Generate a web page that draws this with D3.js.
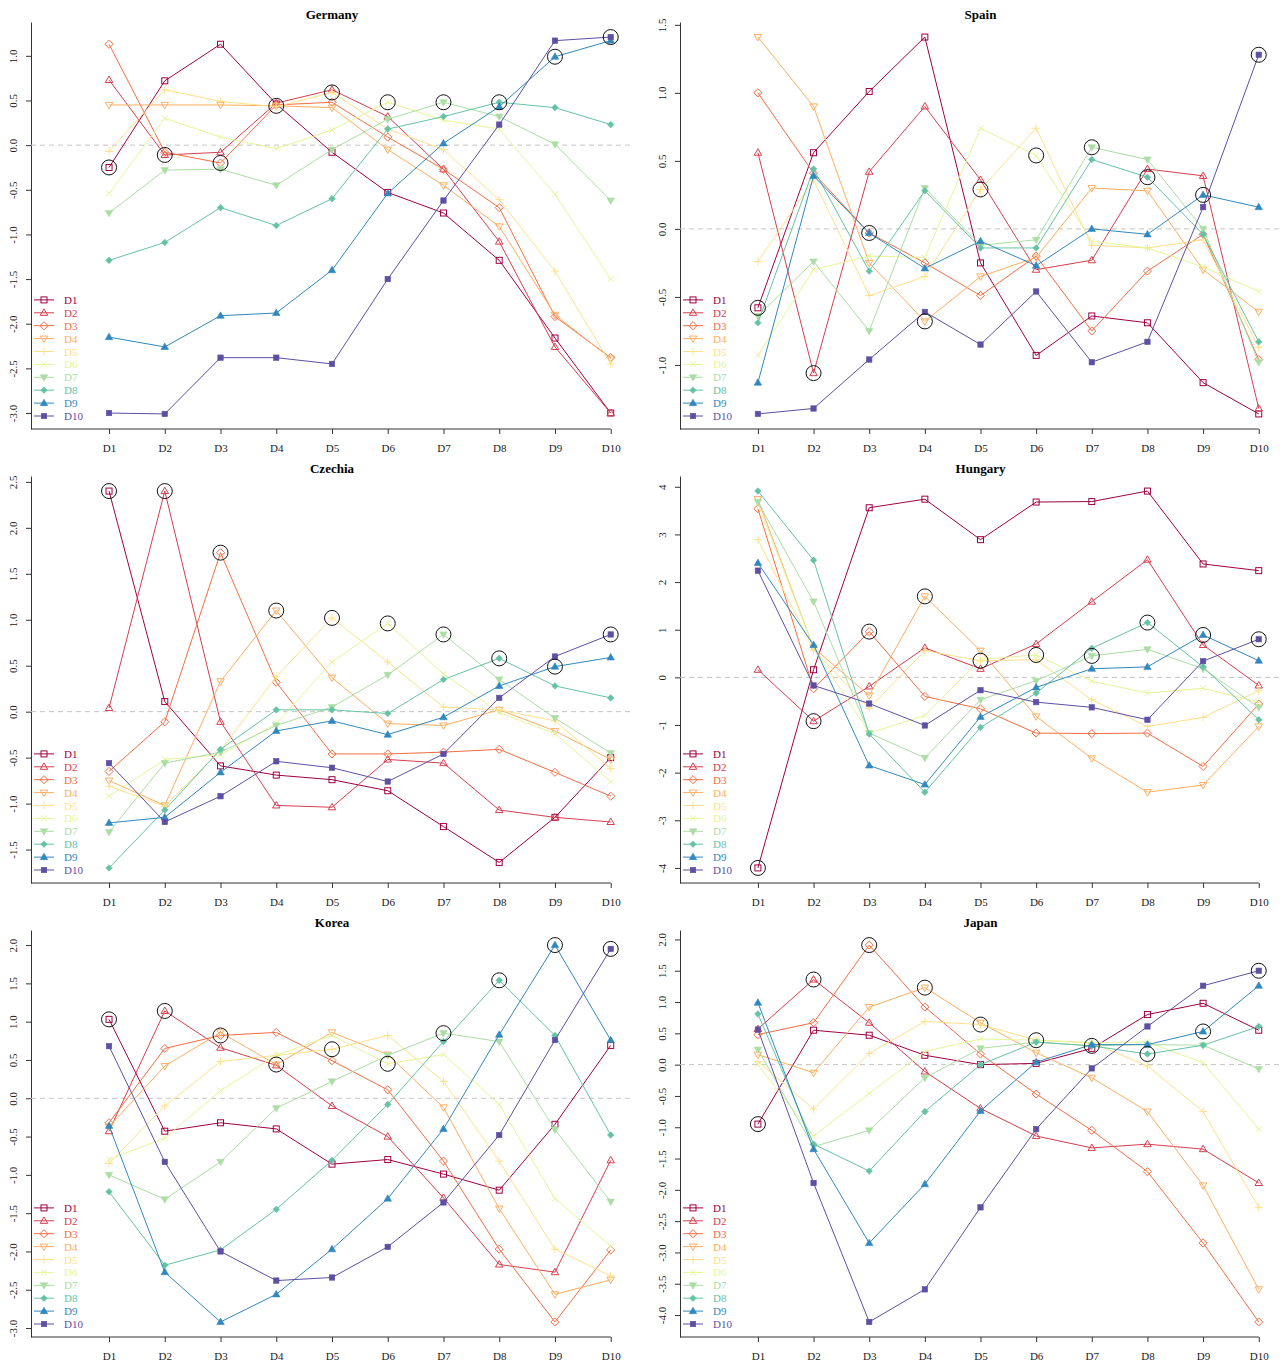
<!DOCTYPE html>
<html lang="en">
<head>
<meta charset="UTF-8">
<title>Decile profiles by country</title>
<script src="https://d3js.org/d3.v7.min.js"></script>
<style>
  body { margin: 0; background: #fff; }
  svg { display: block; font-family: "Liberation Serif", "DejaVu Serif", serif; }
</style>
</head>
<body>
<svg id="chart" width="1282" height="1365"></svg>
<script>
const deciles = ["D1", "D2", "D3", "D4", "D5", "D6", "D7", "D8", "D9", "D10"];
const colors = ["#9E0142", "#D53E4F", "#F46D43", "#FDAE61", "#FEE08B",
                "#E6F598", "#ABDDA4", "#66C2A5", "#3288BD", "#5E4FA2"];

// one row per series D1..D10, one value per category D1..D10
const germany = [
  [-0.25, 0.72, 1.13, 0.46, -0.08, -0.53, -0.76, -1.29, -2.16, -3.00],
  [0.73, -0.11, -0.08, 0.47, 0.62, 0.32, -0.27, -1.08, -2.26, -3.00],
  [1.13, -0.08, -0.20, 0.45, 0.48, 0.09, -0.27, -0.70, -1.92, -2.38],
  [0.45, 0.45, 0.45, 0.44, 0.42, -0.05, -0.45, -0.91, -1.90, -2.39],
  [-0.07, 0.62, 0.49, 0.43, 0.59, 0.18, -0.05, -0.61, -1.41, -2.45],
  [-0.54, 0.30, 0.09, -0.04, 0.17, 0.48, 0.28, 0.18, -0.55, -1.50],
  [-0.76, -0.28, -0.27, -0.45, -0.05, 0.29, 0.48, 0.32, 0.01, -0.62],
  [-1.29, -1.09, -0.70, -0.90, -0.60, 0.18, 0.32, 0.48, 0.42, 0.23],
  [-2.15, -2.26, -1.91, -1.88, -1.40, -0.54, 0.02, 0.43, 0.99, 1.17],
  [-3.00, -3.01, -2.38, -2.38, -2.45, -1.50, -0.62, 0.23, 1.17, 1.21]
];
const spain = [
  [-0.58, 0.56, 1.01, 1.41, -0.25, -0.93, -0.64, -0.69, -1.13, -1.36],
  [0.56, -1.06, 0.42, 0.90, 0.36, -0.30, -0.23, 0.44, 0.39, -1.32],
  [1.00, 0.41, -0.03, -0.25, -0.49, -0.20, -0.75, -0.31, -0.04, -0.96],
  [1.41, 0.90, -0.25, -0.68, -0.35, -0.21, 0.30, 0.28, -0.30, -0.61],
  [-0.24, 0.36, -0.49, -0.35, 0.29, 0.74, -0.12, -0.14, -0.08, -0.87],
  [-0.93, -0.30, -0.20, -0.21, 0.74, 0.54, -0.09, -0.14, -0.28, -0.46],
  [-0.64, -0.24, -0.75, 0.30, -0.12, -0.08, 0.60, 0.51, 0.00, -0.98],
  [-0.69, 0.44, -0.31, 0.28, -0.14, -0.14, 0.51, 0.38, -0.04, -0.83],
  [-1.13, 0.39, -0.03, -0.29, -0.09, -0.27, 0.00, -0.04, 0.25, 0.16],
  [-1.36, -1.32, -0.96, -0.61, -0.85, -0.46, -0.98, -0.83, 0.16, 1.28]
];
const czechia = [
  [2.40, 0.11, -0.59, -0.69, -0.74, -0.86, -1.25, -1.64, -1.15, -0.50],
  [0.04, 2.40, -0.11, -1.02, -1.04, -0.52, -0.56, -1.07, -1.15, -1.20],
  [-0.65, -0.11, 1.73, 0.32, -0.46, -0.46, -0.44, -0.41, -0.66, -0.92],
  [-0.75, -1.02, 0.33, 1.10, 0.37, -0.13, -0.15, 0.02, -0.21, -0.52],
  [-0.81, -1.03, -0.42, 0.38, 1.02, 0.54, 0.05, 0.02, -0.10, -0.62],
  [-0.92, -0.52, -0.47, -0.13, 0.54, 0.96, 0.41, -0.01, -0.24, -0.76],
  [-1.31, -0.56, -0.44, -0.15, 0.05, 0.40, 0.84, 0.35, -0.07, -0.45],
  [-1.70, -1.07, -0.41, 0.02, 0.02, -0.02, 0.35, 0.58, 0.28, 0.15],
  [-1.21, -1.15, -0.66, -0.21, -0.10, -0.25, -0.06, 0.28, 0.49, 0.59],
  [-0.56, -1.20, -0.92, -0.54, -0.61, -0.76, -0.46, 0.15, 0.60, 0.84]
];
const hungary = [
  [-4.00, 0.16, 3.56, 3.74, 2.89, 3.68, 3.69, 3.91, 2.38, 2.24],
  [0.16, -0.92, -0.19, 0.62, 0.18, 0.70, 1.59, 2.47, 0.68, -0.17],
  [3.54, -0.24, 0.96, -0.40, -0.66, -1.17, -1.18, -1.17, -1.87, -0.56],
  [3.74, 0.62, -0.38, 1.70, 0.56, -0.82, -1.70, -2.41, -2.26, -1.03],
  [2.89, 0.58, -0.65, 0.56, 0.35, 0.37, -0.47, -1.03, -0.84, -0.28],
  [3.65, 0.62, -1.17, -0.80, 0.38, 0.47, -0.08, -0.33, -0.23, -0.52],
  [3.68, 1.59, -1.17, -1.69, -0.47, -0.07, 0.45, 0.59, 0.18, -0.63],
  [3.91, 2.46, -1.19, -2.41, -1.05, -0.33, 0.61, 1.15, 0.22, -0.89],
  [2.40, 0.68, -1.85, -2.25, -0.83, -0.21, 0.18, 0.22, 0.89, 0.35],
  [2.24, -0.17, -0.55, -1.01, -0.27, -0.52, -0.63, -0.89, 0.34, 0.80]
];
const korea = [
  [1.03, -0.43, -0.32, -0.40, -0.86, -0.80, -0.99, -1.20, -0.34, 0.69],
  [-0.43, 1.14, 0.66, 0.43, -0.10, -0.50, -1.30, -2.17, -2.27, -0.81],
  [-0.32, 0.65, 0.82, 0.86, 0.49, 0.11, -0.82, -1.97, -2.92, -1.98],
  [-0.37, 0.42, 0.86, 0.44, 0.86, 0.57, -0.12, -1.44, -2.56, -2.37],
  [-0.85, -0.10, 0.48, 0.56, 0.64, 0.82, 0.22, -0.82, -1.97, -2.32],
  [-0.80, -0.52, 0.10, 0.56, 0.82, 0.45, 0.57, -0.08, -1.31, -1.93],
  [-1.00, -1.32, -0.83, -0.13, 0.22, 0.56, 0.85, 0.74, -0.41, -1.35],
  [-1.22, -2.18, -1.98, -1.45, -0.81, -0.08, 0.74, 1.54, 0.82, -0.48],
  [-0.36, -2.27, -2.92, -2.56, -1.97, -1.31, -0.40, 0.83, 2.00, 0.76],
  [0.68, -0.83, -2.00, -2.38, -2.34, -1.94, -1.36, -0.48, 0.76, 1.95]
];
const japan = [
  [-0.95, 0.55, 0.47, 0.15, 0.00, 0.02, 0.26, 0.80, 0.98, 0.55],
  [0.57, 1.36, 0.67, -0.11, -0.70, -1.14, -1.33, -1.27, -1.35, -1.89],
  [0.48, 0.67, 1.91, 0.92, 0.17, -0.47, -1.05, -1.71, -2.85, -4.11],
  [0.16, -0.13, 0.92, 1.23, 0.67, 0.19, -0.21, -0.75, -1.93, -3.59],
  [0.05, -0.71, 0.18, 0.69, 0.64, 0.39, 0.35, -0.02, -0.75, -2.28],
  [0.00, -1.14, -0.46, 0.21, 0.41, 0.39, 0.35, 0.36, 0.03, -1.03],
  [0.24, -1.31, -1.05, -0.21, 0.26, 0.36, 0.30, 0.32, 0.31, -0.07],
  [0.81, -1.27, -1.70, -0.75, 0.00, 0.36, 0.30, 0.17, 0.31, 0.61],
  [0.99, -1.35, -2.85, -1.91, -0.74, 0.04, 0.32, 0.32, 0.53, 1.26],
  [0.56, -1.89, -4.11, -3.59, -2.28, -1.03, -0.06, 0.61, 1.26, 1.50]
];

const germanyTicks = [-3, -2.5, -2, -1.5, -1, -0.5, 0, 0.5, 1];
const spainTicks = [-1, -0.5, 0, 0.5, 1, 1.5];
const czechiaTicks = [-1.5, -1, -0.5, 0, 0.5, 1, 1.5, 2, 2.5];
const hungaryTicks = [-4, -3, -2, -1, 0, 1, 2, 3, 4];
const koreaTicks = [-3, -2.5, -2, -1.5, -1, -0.5, 0, 0.5, 1, 1.5, 2];
const japanTicks = [-4, -3.5, -3, -2.5, -2, -1.5, -1, -0.5, 0, 0.5, 1, 1.5, 2];

const panels = [
  { name: "Germany", data: germany, ticks: germanyTicks },
  { name: "Spain", data: spain, ticks: spainTicks },
  { name: "Czechia", data: czechia, ticks: czechiaTicks },
  { name: "Hungary", data: hungary, ticks: hungaryTicks },
  { name: "Korea", data: korea, ticks: koreaTicks },
  { name: "Japan", data: japan, ticks: japanTicks }
];

const svg = d3.select("#chart");
const cols = [{ left: 31, right: 633 }, { left: 680, right: 1281 }];
const rowStep = 454;
const axisColor = "#333";

// R-like plotting symbols: 0, 2, 5, 6, 3, 4, 25(filled), 18, 17, 15
function drawMarker(g, k, cx, cy, col) {
  const s = 3;
  const m = g.append("g").attr("transform", `translate(${cx},${cy})`);
  const open = { fill: "none", stroke: col, "stroke-width": 1 };
  const solid = { fill: col, stroke: col, "stroke-width": 0.6 };
  const apply = (sel, st) => { Object.entries(st).forEach(([a, v]) => sel.attr(a, v)); return sel; };
  const tri = (up, r) => up
    ? `M0,${-r * 1.15}L${r * 1.1},${r * 0.75}L${-r * 1.1},${r * 0.75}Z`
    : `M0,${r * 1.15}L${r * 1.1},${-r * 0.75}L${-r * 1.1},${-r * 0.75}Z`;
  const dia = r => `M0,${-r}L${r},0L0,${r}L${-r},0Z`;
  switch (k) {
    case 0: apply(m.append("rect").attr("x", -s).attr("y", -s).attr("width", 2 * s).attr("height", 2 * s), open); break;
    case 1: apply(m.append("path").attr("d", tri(true, s + 0.4)), open); break;
    case 2: apply(m.append("path").attr("d", dia(s * 1.35)), open); break;
    case 3: apply(m.append("path").attr("d", tri(false, s + 0.4)), open); break;
    case 4: apply(m.append("path").attr("d", `M${-s * 1.35},0H${s * 1.35}M0,${-s * 1.35}V${s * 1.35}`), open); break;
    case 5: apply(m.append("path").attr("d", `M${-s},${-s}L${s},${s}M${-s},${s}L${s},${-s}`), open); break;
    case 6: apply(m.append("path").attr("d", tri(false, s + 0.4)), solid); break;
    case 7: apply(m.append("path").attr("d", dia(s * 1.1)), solid); break;
    case 8: apply(m.append("path").attr("d", tri(true, s + 0.4)), solid); break;
    case 9: apply(m.append("rect").attr("x", -s + 0.3).attr("y", -s + 0.3).attr("width", 2 * s - 0.6).attr("height", 2 * s - 0.6), solid); break;
  }
}

panels.forEach((p, idx) => {
  const c = cols[idx % 2];
  const top = 22 + Math.floor(idx / 2) * rowStep;
  const bottom = 429 + Math.floor(idx / 2) * rowStep;

  const all = p.data.flat();
  const lo = d3.min(all), hi = d3.max(all);
  const pad = (hi - lo) * 0.04;

  const x = d3.scaleLinear().domain([-0.4, 10.4]).range([c.left, c.right]);
  const y = d3.scaleLinear().domain([lo - pad, hi + pad]).range([bottom, top]);

  const g = svg.append("g");

  // title
  g.append("text")
    .attr("x", (c.left + c.right) / 2)
    .attr("y", top - 3)
    .attr("text-anchor", "middle")
    .attr("font-weight", "bold")
    .attr("font-size", 13)
    .text(p.name);

  // y axis
  const dec = p.ticks.some(t => t % 1 !== 0) ? 1 : 0;
  const yAxis = g.append("g")
    .attr("transform", `translate(${c.left},0)`)
    .call(d3.axisLeft(y).tickValues(p.ticks).tickSize(5).tickSizeOuter(0)
      .tickFormat(t => t.toFixed(dec)));
  yAxis.select(".domain").attr("stroke", axisColor);
  yAxis.selectAll(".tick line").attr("stroke", axisColor);
  yAxis.selectAll(".tick text")
    .attr("x", 0).attr("y", -14).attr("dy", null)
    .attr("text-anchor", "middle")
    .attr("transform", "rotate(-90)")
    .attr("font-family", "Liberation Serif, serif")
    .attr("font-size", 11)
    .attr("fill", "#222");

  // x axis
  const xAxis = g.append("g")
    .attr("transform", `translate(0,${bottom})`)
    .call(d3.axisBottom(x).tickValues(d3.range(1, 11)).tickSize(5).tickSizeOuter(0)
      .tickFormat(i => deciles[i - 1]));
  xAxis.select(".domain").remove();
  xAxis.selectAll(".tick line").attr("stroke", axisColor);
  xAxis.selectAll(".tick text")
    .attr("y", 23).attr("dy", null)
    .attr("font-family", "Liberation Serif, serif")
    .attr("font-size", 11)
    .attr("fill", "#222");
  g.append("line")
    .attr("x1", c.left).attr("x2", x(10))
    .attr("y1", bottom).attr("y2", bottom)
    .attr("stroke", axisColor);

  // zero reference
  g.append("line")
    .attr("x1", c.left).attr("x2", c.right)
    .attr("y1", y(0)).attr("y2", y(0))
    .attr("stroke", "#c4c4c4")
    .attr("stroke-dasharray", "5,4");

  const line = d3.line().x((d, i) => x(i + 1)).y(d => y(d));

  p.data.forEach((series, k) => {
    g.append("path")
      .datum(series)
      .attr("d", line)
      .attr("fill", "none")
      .attr("stroke", colors[k])
      .attr("stroke-width", 1);
    series.forEach((v, i) => drawMarker(g, k, x(i + 1), y(v), colors[k]));
  });

  // highlight own decile
  p.data.forEach((series, k) => {
    g.append("circle")
      .attr("cx", x(k + 1)).attr("cy", y(series[k]))
      .attr("r", 7.5)
      .attr("fill", "none")
      .attr("stroke", "#111")
      .attr("stroke-width", 1);
  });

  // legend
  const lg = g.append("g");
  deciles.forEach((d, k) => {
    const ly = bottom - 13 - (9 - k) * 12.9;
    lg.append("line")
      .attr("x1", c.left + 3).attr("x2", c.left + 23)
      .attr("y1", ly).attr("y2", ly)
      .attr("stroke", colors[k]);
    drawMarker(lg, k, c.left + 13, ly, colors[k]);
    lg.append("text")
      .attr("x", c.left + 33)
      .attr("y", ly + 4)
      .attr("font-size", 11)
      .attr("fill", colors[k])
      .text(d);
  });
});
</script>
</body>
</html>
